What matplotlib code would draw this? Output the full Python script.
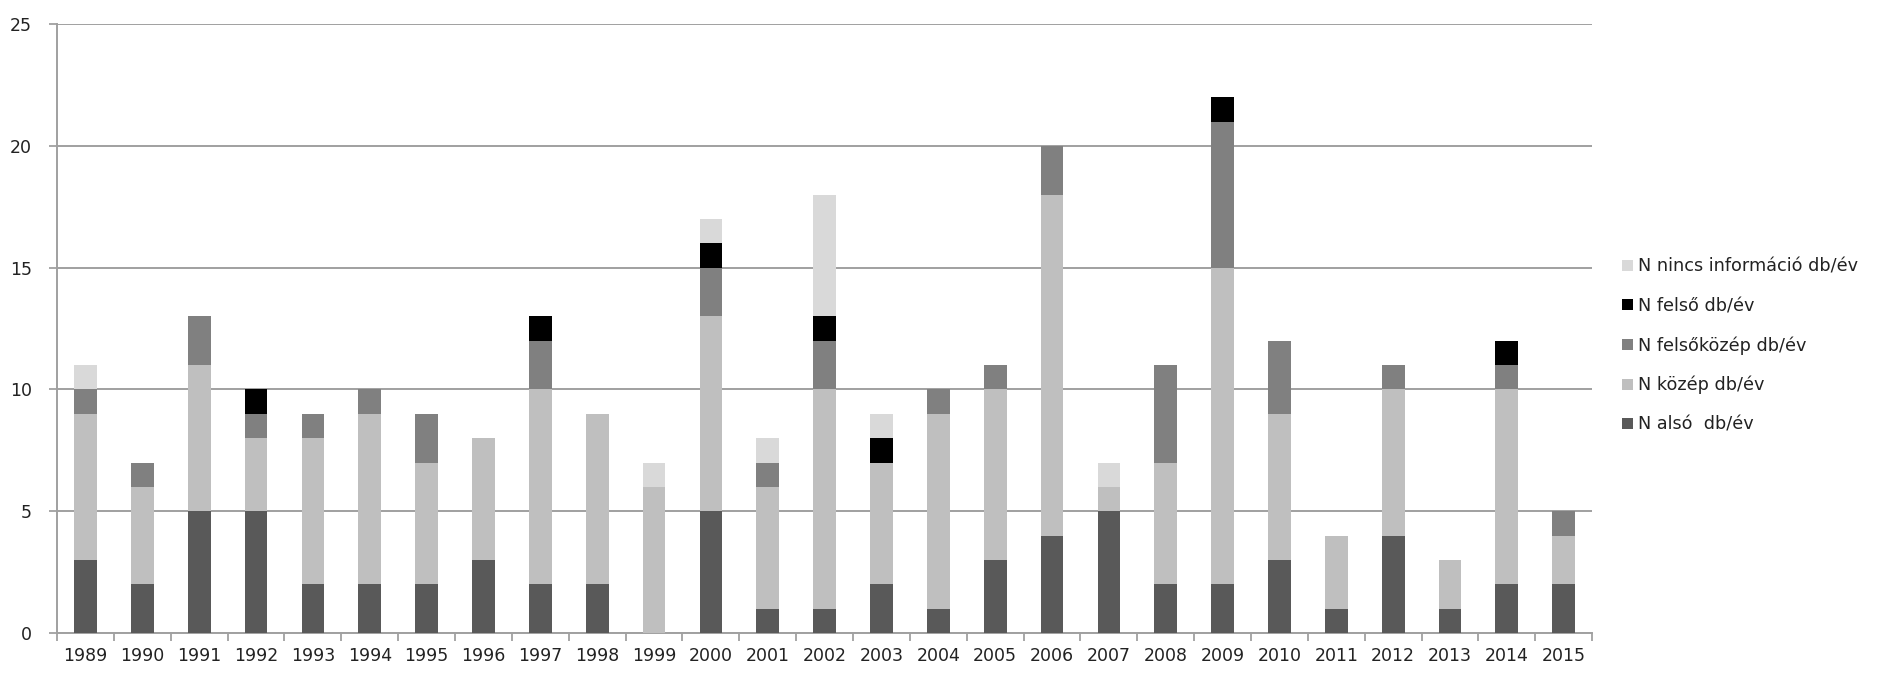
import numpy as np
import matplotlib.pyplot as plt

years = list(range(1989, 2016))

# N alsó db/év
also = [3, 2, 5, 5, 2, 2, 2, 3, 2, 2, 0, 5, 1, 1, 2, 1, 3, 4, 5, 2, 2, 3, 1, 4, 1, 2, 2]
# N közép db/év
kozep = [6, 4, 6, 3, 6, 7, 5, 5, 8, 7, 6, 8, 5, 9, 5, 8, 7, 14, 1, 5, 13, 6, 3, 6, 2, 8, 2]
# N felsőközép db/év
felsokozep = [1, 1, 2, 1, 1, 1, 2, 0, 2, 0, 0, 2, 1, 2, 0, 1, 1, 2, 0, 4, 6, 3, 0, 1, 0, 1, 1]
# N felső db/év
felso = [0, 0, 0, 1, 0, 0, 0, 0, 1, 0, 0, 1, 0, 1, 1, 0, 0, 0, 0, 0, 1, 0, 0, 0, 0, 1, 0]
# N nincs információ db/év
nincs = [1, 0, 0, 0, 0, 0, 0, 0, 0, 0, 1, 1, 1, 5, 1, 0, 0, 0, 1, 0, 0, 0, 0, 0, 0, 0, 0]

series = [
    ("N alsó  db/év", also, "#595959"),
    ("N közép db/év", kozep, "#bfbfbf"),
    ("N felsőközép db/év", felsokozep, "#808080"),
    ("N felső db/év", felso, "#000000"),
    ("N nincs információ db/év", nincs, "#d9d9d9"),
]

plt.rcParams['font.family'] = ['DejaVu Sans']
fig = plt.figure(figsize=(18.9, 6.9), dpi=100)
ax = fig.add_axes([0.0302, 0.0826, 0.8122, 0.8824])

x = np.arange(len(years))
bottom = np.zeros(len(years))
for name, vals, col in series:
    vals = np.array(vals)
    ax.bar(x, vals, width=0.40, bottom=bottom, color=col, label=name, zorder=3)
    bottom += vals

ax.set_xlim(-0.5, len(years) - 0.5)
ax.set_ylim(0, 25)
ax.set_yticks(range(0, 26, 5))
ax.set_xticks(x)
ax.set_xticklabels([str(y) for y in years])
ax.set_xticks(np.arange(-0.5, len(years), 1), minor=True)
ax.tick_params(axis='x', which='major', length=0, pad=10, labelsize=12.5, colors='#222222')
ax.tick_params(axis='x', which='minor', length=6, width=1.3, color='#a0a0a0')
ax.tick_params(axis='y', length=6, width=1.3, color='#a0a0a0', labelsize=12.5, labelcolor='#222222', pad=12)
ax.grid(axis='y', color='#a0a0a0', linewidth=1.4, zorder=0)
for s in ['top', 'right']:
    ax.spines[s].set_visible(False)
for s in ['left', 'bottom']:
    ax.spines[s].set_color('#a0a0a0')
    ax.spines[s].set_linewidth(1.4)

h, l = ax.get_legend_handles_labels()
leg = fig.legend(h[::-1], l[::-1], loc='center left', bbox_to_anchor=(0.850, 0.499),
                 frameon=False, fontsize=12.7, handlelength=0.6, handleheight=0.6,
                 handletextpad=0.3, labelspacing=1.2)
for t in leg.get_texts():
    t.set_color('#222222')

fig.savefig("out.png", dpi=100)
